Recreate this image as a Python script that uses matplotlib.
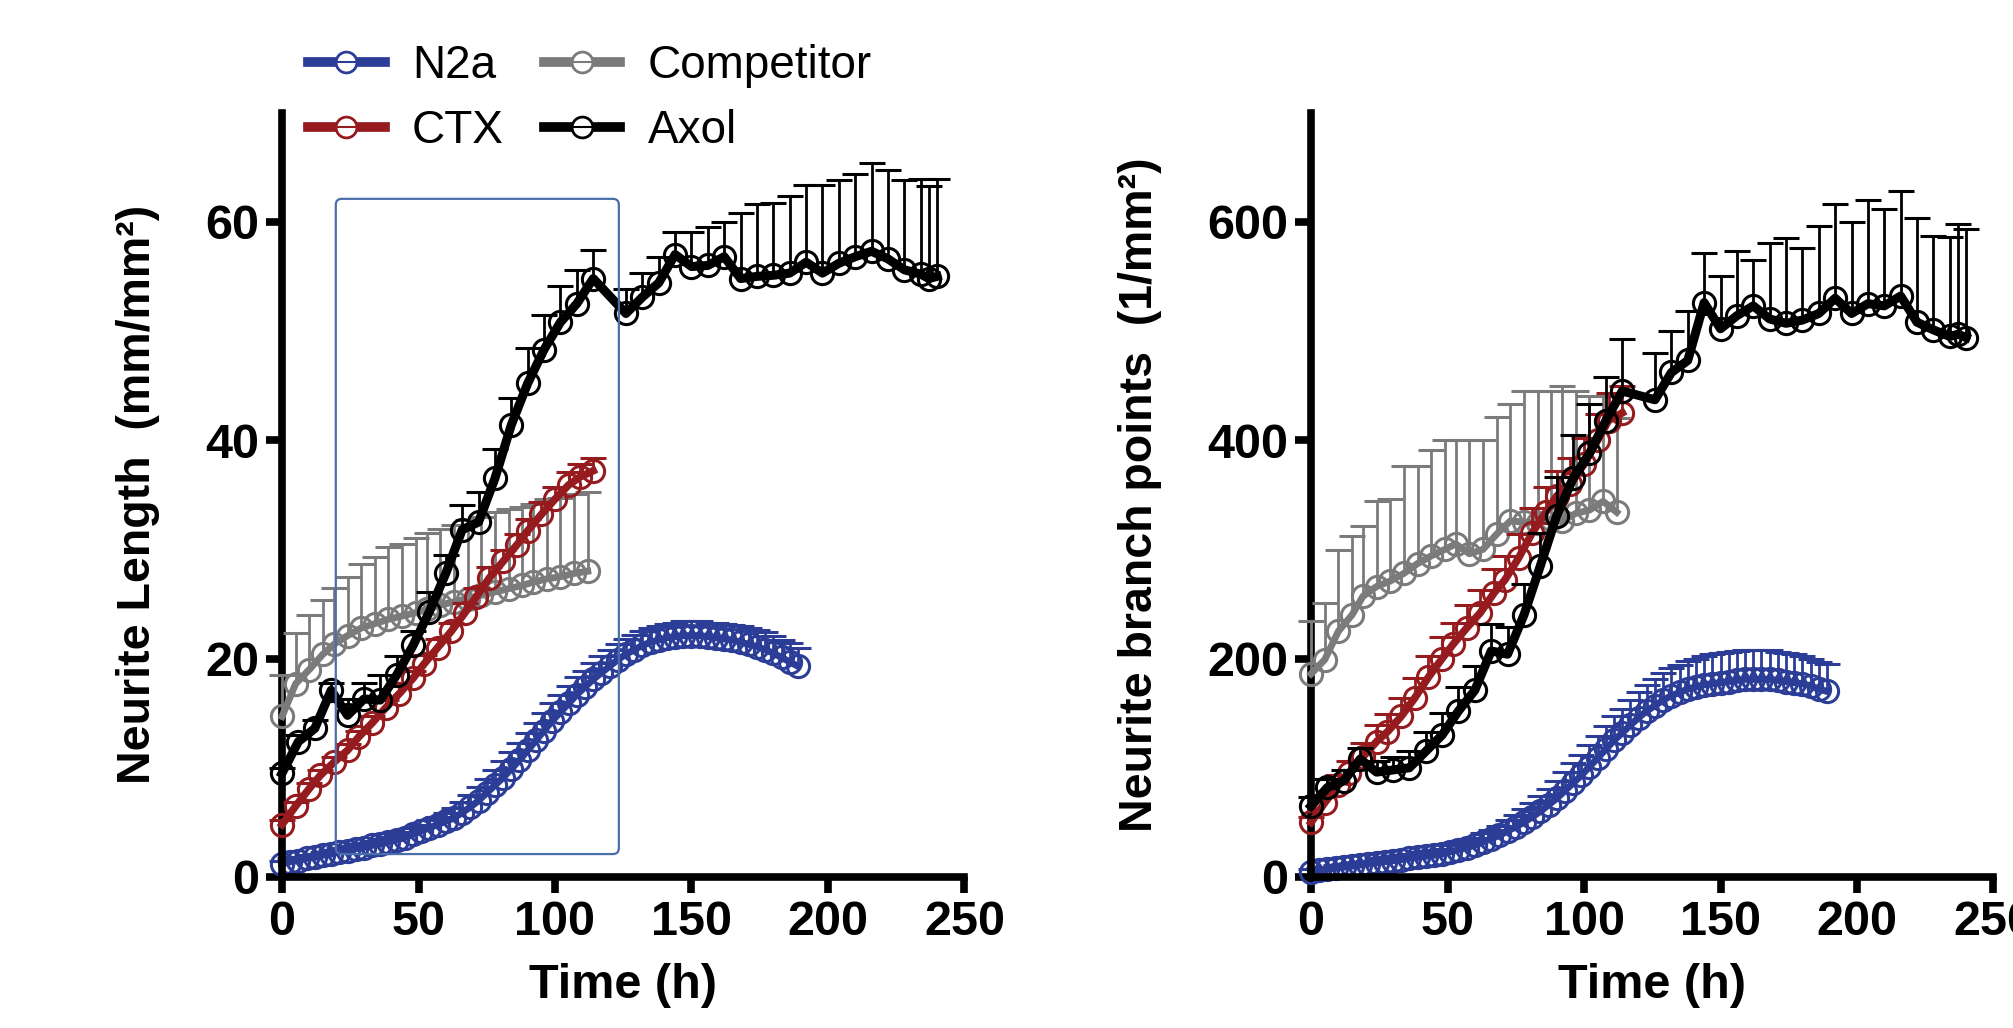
import numpy as np
import matplotlib
matplotlib.use('Agg')
import matplotlib.pyplot as plt
from matplotlib.lines import Line2D
from matplotlib.patches import FancyBboxPatch

plt.rcParams['font.family'] = ['Liberation Sans', 'DejaVu Sans']
plt.rcParams['font.weight'] = 'bold'

# ==========================================
# time points (h) for each cell type
# ==========================================
T_N2A = [0, 3, 6, 9, 12, 15, 18, 21, 24, 27, 30, 33, 36, 39, 42, 45,
         48, 51, 54, 57, 60, 63, 66, 69, 72, 75, 78, 81, 84, 87, 90, 93,
         96, 99, 102, 105, 108, 111, 114, 117, 120, 123, 126, 129, 132, 135, 138, 141,
         144, 147, 150, 153, 156, 159, 162, 165, 168, 171, 174, 177, 180, 183, 186, 189]
T_CTX = [0, 5, 10, 14, 19, 24, 28, 33, 38, 43, 48, 52, 57, 62, 67, 71, 76, 81, 86, 90,
         95, 100, 105, 109, 114]
T_COMP = [0, 5, 10, 15, 19, 24, 29, 34, 39, 44, 49, 53, 58, 63, 68, 73, 78, 83, 88, 92,
          97, 102, 107, 112]
T_AXOL = [0, 6, 12, 18, 24, 30, 36, 42, 48, 54, 60, 66, 72, 78, 84, 90, 96, 102, 108, 114,
          126, 132, 138, 144, 150, 156, 162, 168, 174, 180, 186, 192, 198, 204, 210, 216, 222, 228, 234,
          237, 240]

# ==========================================
# neurite length (mm/mm2), mean and upper SEM
# ==========================================
LEN_N2A = [1.2, 1.4, 1.5, 1.7, 1.8, 2.0, 2.1, 2.3, 2.4, 2.6, 2.7, 2.9, 3.0, 3.2, 3.4, 3.6,
           3.9, 4.2, 4.5, 4.8, 5.1, 5.4, 5.9, 6.4, 7.0, 7.7, 8.4, 9.1, 9.9, 10.7, 11.6, 12.5,
           13.4, 14.3, 15.1, 15.9, 16.7, 17.4, 18.1, 18.7, 19.3, 19.9, 20.4, 20.8, 21.2, 21.5, 21.7, 21.9,
           22.0, 22.1, 22.1, 22.1, 22.0, 21.9, 21.8, 21.7, 21.5, 21.3, 21.1, 20.8, 20.5, 20.1, 19.7, 19.3]
LEN_N2A_ERR = [0.3, 0.3, 0.3, 0.3, 0.3, 0.3, 0.4, 0.4, 0.4, 0.4, 0.4, 0.4, 0.5, 0.5, 0.5, 0.5,
               0.6, 0.6, 0.7, 0.7, 0.8, 0.9, 1.0, 1.1, 1.2, 1.3, 1.4, 1.5, 1.5, 1.6, 1.6, 1.6,
               1.6, 1.6, 1.6, 1.6, 1.6, 1.5, 1.5, 1.5, 1.5, 1.4, 1.4, 1.4, 1.3, 1.3, 1.3, 1.3,
               1.3, 1.3, 1.3, 1.3, 1.3, 1.4, 1.4, 1.4, 1.5, 1.5, 1.5, 1.6, 1.6, 1.6, 1.7, 1.7]
LEN_CTX = [4.8, 6.5, 8.1, 9.3, 10.5, 11.6, 12.8, 14.1, 15.5, 16.8, 18.2, 19.5, 21.0, 22.5, 24.2,
           25.6, 27.4, 28.9, 30.4, 31.7, 33.2, 34.6, 35.9, 36.6, 37.2]
LEN_CTX_ERR = [0.4, 0.4, 0.5, 0.5, 0.5, 0.6, 0.6, 0.6, 0.7, 0.7, 0.7, 0.8, 0.8, 0.8, 0.9,
               0.9, 1.0, 1.0, 1.0, 1.1, 1.1, 1.1, 1.2, 1.2, 1.2]
LEN_COMP = [14.7, 17.7, 19.0, 20.4, 21.3, 22.1, 22.8, 23.2, 23.6, 23.9, 24.2, 24.5, 24.9, 25.2,
            25.5, 25.8, 26.1, 26.4, 26.7, 27.0, 27.3, 27.5, 27.8, 28.0]
LEN_COMP_ERR = [3.8, 4.6, 5.0, 5.0, 5.2, 5.4, 5.9, 6.1, 6.6, 6.6, 6.8, 7.0, 7.0, 7.0,
                7.2, 7.2, 7.3, 7.3, 7.2, 7.2, 7.3, 7.2, 7.3, 7.3]
LEN_AXOL = [9.5, 12.4, 13.6, 17.1, 14.8, 16.3, 16.2, 18.5, 21.2, 24.3, 27.8, 31.8, 32.5, 36.5,
            41.4, 45.2, 48.3, 50.8, 52.5, 54.8,
            51.6, 53.1, 54.4, 57.0, 55.9, 56.0, 56.8, 54.8, 55.0, 55.1, 55.3, 56.3, 55.3, 56.2,
            56.8, 57.3, 56.6, 55.6, 55.2, 54.8, 55.0]
LEN_AXOL_ERR = [0.5, 0.6, 0.8, 0.7, 1.5, 1.5, 2.3, 1.7, 1.3, 1.8, 1.7, 2.3, 2.8, 2.7, 2.5,
                3.2, 3.2, 3.3, 3.1, 2.6,
                2.2, 2.2, 2.4, 2.1, 3.2, 3.5, 3.2, 6.0, 6.6, 6.6, 7.1, 7.1, 8.1, 7.6, 7.6,
                8.1, 8.1, 8.2, 8.7, 8.5, 8.9]

# ==========================================
# neurite branch points (1/mm2), mean and upper SEM
# ==========================================
BR_N2A = [5, 6, 7, 8, 9, 10, 11, 12, 13, 14, 15, 16, 17, 18, 19, 20,
          21, 23, 25, 27, 29, 32, 35, 38, 42, 46, 50, 55, 60, 66, 72, 79,
          86, 93, 101, 109, 117, 125, 132, 139, 146, 152, 157, 162, 166, 169, 172, 174,
          176, 177, 178, 179, 180, 181, 181, 181, 181, 180, 179, 178, 177, 175, 172, 170]
BR_N2A_ERR = [2, 2, 2, 3, 3, 3, 3, 3, 4, 4, 4, 4, 4, 5, 5, 5,
              5, 6, 6, 7, 7, 8, 8, 9, 10, 11, 12, 13, 14, 15, 16, 17,
              18, 19, 20, 20, 21, 22, 22, 23, 23, 24, 24, 25, 25, 25, 26, 26,
              26, 27, 27, 27, 27, 27, 27, 27, 27, 26, 26, 26, 25, 25, 25, 25]
BR_CTX = [50, 68, 84, 95, 110, 124, 133, 147, 164, 183, 200, 213, 228, 242, 260, 272, 292,
          315, 334, 349, 360, 378, 400, 418, 425]
BR_CTX_ERR = [5, 7, 9, 11, 13, 15, 16, 17, 18, 19, 20, 20, 21, 21, 22, 22, 22, 23, 23, 23,
              24, 24, 24, 25, 25]
BR_COMP = [186, 199, 225, 240, 257, 266, 271, 278, 287, 294, 300, 305, 296, 300, 314, 326,
           325, 324, 328, 326, 333, 336, 344, 334]
BR_COMP_ERR = [48, 52, 74, 72, 64, 78, 75, 98, 89, 97, 100, 95, 104, 100, 107, 107,
               120, 121, 117, 124, 112, 104, 96, 86]
BR_AXOL = [65, 82, 88, 108, 96, 98, 100, 115, 130, 152, 171, 207, 204, 240, 285, 331, 365,
           388, 418, 445,
           437, 462, 473, 526, 502, 514, 523, 511, 507, 510, 516, 530, 516, 525, 523, 532,
           508, 501, 495, 497, 494]
BR_AXOL_ERR = [8, 8, 10, 10, 10, 12, 15, 18, 20, 22, 22, 25, 25, 28, 30, 35, 40, 45, 40, 48,
               43, 38, 45, 45, 48, 59, 42, 70, 78, 66, 80, 86, 84, 95, 89, 96, 95, 86, 91,
               101, 99]

NAMES = ['N2a', 'CTX', 'Competitor', 'Axol']
COLORS = {'N2a': '#2c3d98', 'CTX': '#951b1e', 'Competitor': '#7b7b7b', 'Axol': '#000000'}
LINE_W = {'N2a': 5.0, 'CTX': 5.5, 'Competitor': 5.0, 'Axol': 6.5}
# draw order: later = on top
ORDER = ['N2a', 'Competitor', 'CTX', 'Axol']


def draw_series(ax, t, y, err, name, z):
    t = np.asarray(t, dtype=float)
    y = np.asarray(y, dtype=float)
    err = np.asarray(err, dtype=float)
    c = COLORS[name]
    # upper error bar only
    ax.vlines(t, y, y + err, colors=c, lw=2.0, zorder=z, clip_on=False)
    ax.plot(t, y + err, ls='none', marker='_', ms=19, mew=2.2, color=c, zorder=z, clip_on=False)
    ax.plot(t, y, color=c, lw=LINE_W[name], marker='o', ms=16, mfc='none', mec=c, mew=2.2,
            zorder=z + 0.5, clip_on=False)


def style_axes(ax, ymax, yticks, ylabel, label_x):
    ax.set_xlim(0, 250)
    ax.set_ylim(0, ymax)
    ax.set_xticks([0, 50, 100, 150, 200, 250])
    ax.set_yticks(yticks)
    for s in ['top', 'right']:
        ax.spines[s].set_visible(False)
    for s in ['left', 'bottom']:
        ax.spines[s].set_linewidth(5.5)
        ax.spines[s].set_capstyle('projecting')
    ax.tick_params(width=5.5, length=11.5, labelsize=35, pad=5)
    ax.set_xlabel('Time (h)', fontsize=35, fontweight='bold')
    ax.xaxis.set_label_coords(0.5, -0.1125)
    ax.set_ylabel(ylabel, fontsize=33.5, fontweight='bold')
    ax.yaxis.set_label_coords(label_x, 0.5)


fig = plt.figure(figsize=(20.13, 10.28), dpi=100)
ax_len = fig.add_axes([0.1401, 0.1469, 0.3390, 0.7436])
ax_br = fig.add_axes([0.6513, 0.1469, 0.3390, 0.7436])

len_data = {
    'N2a': (T_N2A, LEN_N2A, LEN_N2A_ERR),
    'CTX': (T_CTX, LEN_CTX, LEN_CTX_ERR),
    'Competitor': (T_COMP, LEN_COMP, LEN_COMP_ERR),
    'Axol': (T_AXOL, LEN_AXOL, LEN_AXOL_ERR),
}
br_data = {
    'N2a': (T_N2A, BR_N2A, BR_N2A_ERR),
    'CTX': (T_CTX, BR_CTX, BR_CTX_ERR),
    'Competitor': (T_COMP, BR_COMP, BR_COMP_ERR),
    'Axol': (T_AXOL, BR_AXOL, BR_AXOL_ERR),
}

for i, name in enumerate(ORDER):
    draw_series(ax_len, *len_data[name], name, 2 + i)
    draw_series(ax_br, *br_data[name], name, 2 + i)

style_axes(ax_len, 70, [0, 20, 40, 60], 'Neurite Length  (mm/mm²)', -0.179)
style_axes(ax_br, 700, [0, 200, 400, 600], 'Neurite branch points  (1/mm²)', -0.218)

# highlight box on the length panel
box = FancyBboxPatch((19.7, 2.1), 103.7, 60.0, boxstyle='round,pad=0,rounding_size=2.2',
                     mutation_aspect=0.25, ec='#4a6ea9', fc='none', lw=1.6, zorder=10)
ax_len.add_patch(box)

# legend: thick line + open circle with thin line through it
handles = []
for name in NAMES:
    c = COLORS[name]
    h1 = Line2D([0], [0], color=c, lw=7, marker='o', ms=15, mfc='white', mec=c, mew=2)
    h2 = Line2D([0], [0], color=c, lw=1.5)
    handles.append((h1, h2))
ax_len.legend(handles, NAMES, ncol=2, loc='upper left', bbox_to_anchor=(308 / 2013, 0.957),
              bbox_transform=fig.transFigure, frameon=False, borderpad=0, borderaxespad=0,
              handlelength=1.67, handletextpad=0.6, columnspacing=0.87, labelspacing=0.46,
              prop={'size': 33, 'weight': 'normal'})

fig.savefig('out.png', dpi=100)
